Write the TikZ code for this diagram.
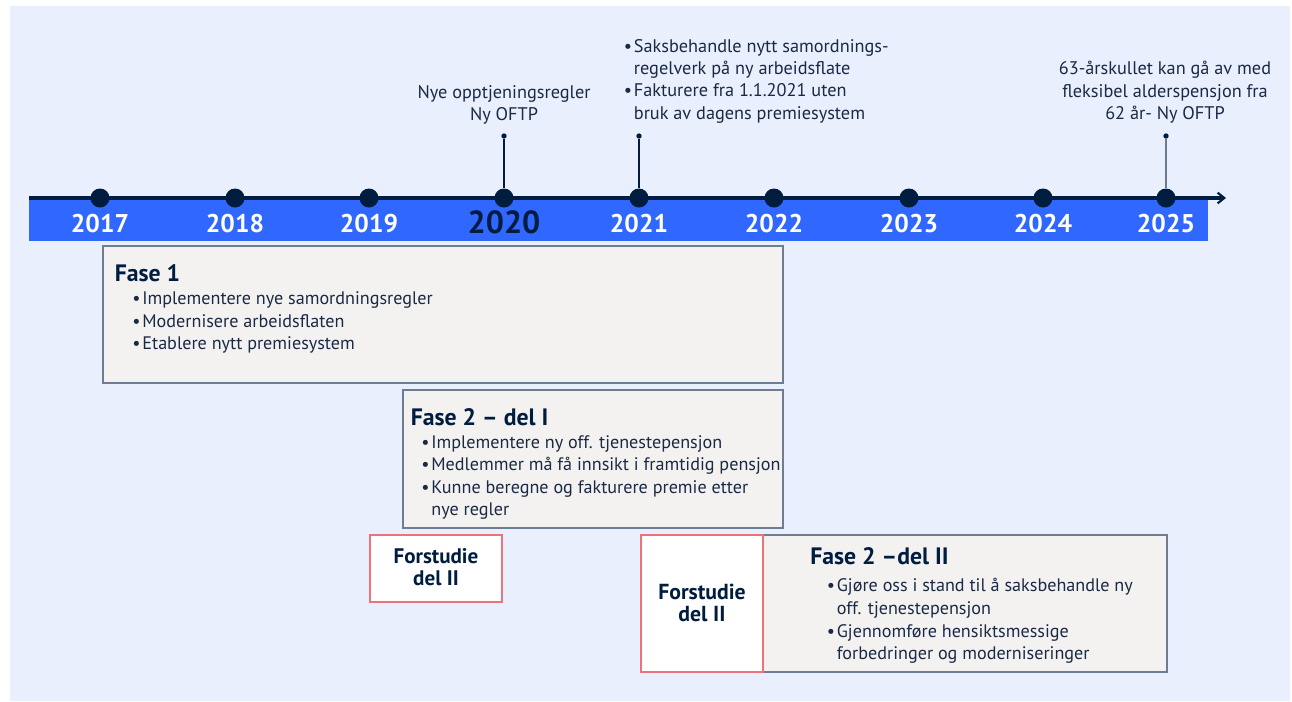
\documentclass[tikz,border=0pt]{standalone}
\usepackage{fontspec}
\setmainfont{PT Sans}
\usetikzlibrary{arrows.meta}
\definecolor{bgblue}{HTML}{E9EFFD}
\definecolor{band}{HTML}{3067FF}
\definecolor{navy}{HTML}{001D40}
\definecolor{txt}{HTML}{1A2A44}
\definecolor{boxfill}{HTML}{F3F2F1}
\definecolor{boxline}{HTML}{6E7D92}
\definecolor{redline}{HTML}{EB7379}
\definecolor{stemgray}{HTML}{6B7B92}
\newcommand\bu{\makebox[7.6pt][l]{\textbullet}}
\newcommand\bc{\hspace*{7.6pt}}
\begin{document}
\begin{tikzpicture}[x=0.75pt,y=-0.75pt,
  yeardot/.style={circle,fill=navy,inner sep=0,minimum size=14.25pt},
  smalldot/.style={circle,fill=navy,inner sep=0,minimum size=4pt},
  yearlbl/.style={anchor=base,inner sep=0,text=white,font=\fontsize{19.2}{21}\selectfont\bfseries},
  stemline/.style={navy,line width=1.1pt},
  callout/.style={inner sep=0,text=txt,font=\fontsize{13.7}{16.75}\selectfont},
  boxtext/.style={inner sep=0,text=txt,anchor=north west,align=left,font=\fontsize{13.6}{16.9}\selectfont},
  boxtitle/.style={inner sep=0,text=navy,anchor=base west,font=\fontsize{17.8}{21}\selectfont\bfseries},
  phasebox/.style={draw=boxline,fill=boxfill,line width=1pt},
  studybox/.style={draw=redline,fill=white,line width=1.9pt},
  studytext/.style={inner sep=0,text=navy,anchor=north,align=center,font=\fontsize{15.8}{16.5}\selectfont\bfseries}
]
\useasboundingbox (0,0) rectangle (1292,701);
\fill[white] (0,0) rectangle (1292,701);
\fill[bgblue] (10,6) rectangle (1290,701);

% timeline band and axis
\fill[band] (29,200) rectangle (1208,241);
\coordinate (axs) at (29,198);
\coordinate (axe) at (1226,198);
\draw[navy,line width=2.6pt,-{Straight Barb[length=5pt,width=8pt,line width=1.6pt]}] (axs) -- (axe);

% year dots and labels
\foreach \yr/\xx in {2017/100,2018/235,2019/369,2020/504,2021/639,2022/774,2023/909,2024/1043,2025/1166}{
  \node[yeardot] (d\yr) at (\xx,198) {};
}
\foreach \yr/\xx in {2017/100,2018/235,2019/369,2021/639,2022/774,2023/909,2024/1043,2025/1166}{
  \node[yearlbl] (y\yr) at (\xx,232) {\yr};
}
\node[anchor=base,inner sep=0,text=navy,font=\fontsize{24}{27}\selectfont\bfseries] (y2020) at (504,233) {2020};

% stems
\node[smalldot] (s2020) at (504,136) {};
\node[smalldot] (s2021) at (639,136) {};
\node[smalldot] (s2025) at (1166,136) {};
\draw[stemline] (s2020) -- (d2020);
\draw[stemline] (s2021) -- (d2021);
\draw[stemline,draw=stemgray] (s2025) -- (d2025);

% callouts
\node[callout,anchor=north,align=center] (c2020) at (504,82.1)
  {\strut Nye opptjeningsregler\\\strut Ny OFTP};
\node[callout,anchor=north west,align=left] (c2021) at (623.5,36.4)
  {\strut\bu Saksbehandle nytt samordnings-\\\strut\bc regelverk på ny arbeidsflate\\\strut\bu Fakturere fra 1.1.2021 uten\\\strut\bc bruk av dagens premiesystem};
\node[callout,anchor=north,align=center] (c2025) at (1165,58.9)
  {\strut 63-årskullet kan gå av med\\\strut fleksibel alderspensjon fra\\\strut 62 år- Ny OFTP};

% Fase 1
\draw[phasebox] (103,246) rectangle (783,383);
\node[boxtitle] (t1) at (114.5,281.7) {Fase 1};
\node[boxtext] (b1) at (132,288.5)
  {\strut\bu Implementere nye samordningsregler\\\strut\bu Modernisere arbeidsflaten\\\strut\bu Etablere nytt premiesystem};

% Fase 2 del I
\draw[phasebox] (403,390) rectangle (783,528);
\node[boxtitle] (t2) at (410.5,425) {Fase 2 – del I};
\node[boxtext] (b2) at (421,432.2)
  {\strut\bu Implementere ny off. tjenestepensjon\\\strut\bu Medlemmer må få innsikt i framtidig pensjon\\\strut\bu Kunne beregne og fakturere premie etter\\\strut\bc nye regler};

% Forstudie small
\draw[studybox] (370,535) rectangle (502,602);
\node[studytext] (fs1) at (436,547.6) {\strut Forstudie\\\strut del II};

% Fase 2 del II
\draw[phasebox] (763,535) rectangle (1167,672);
\draw[studybox] (641,535) rectangle (763,672);
\node[studytext,font=\fontsize{16.3}{16.5}\selectfont\bfseries] (fs2) at (702,583.6) {\strut Forstudie\\\strut del II};
\node[boxtitle] (t3) at (810,564) {Fase 2 –del II};
\node[boxtext] (b3) at (826.5,575.9)
  {\strut\bu Gjøre oss i stand til å saksbehandle ny\\\strut\bc off. tjenestepensjon\\\strut\bu Gjennomføre hensiktsmessige\\\strut\bc forbedringer og moderniseringer};
\end{tikzpicture}
\end{document}
